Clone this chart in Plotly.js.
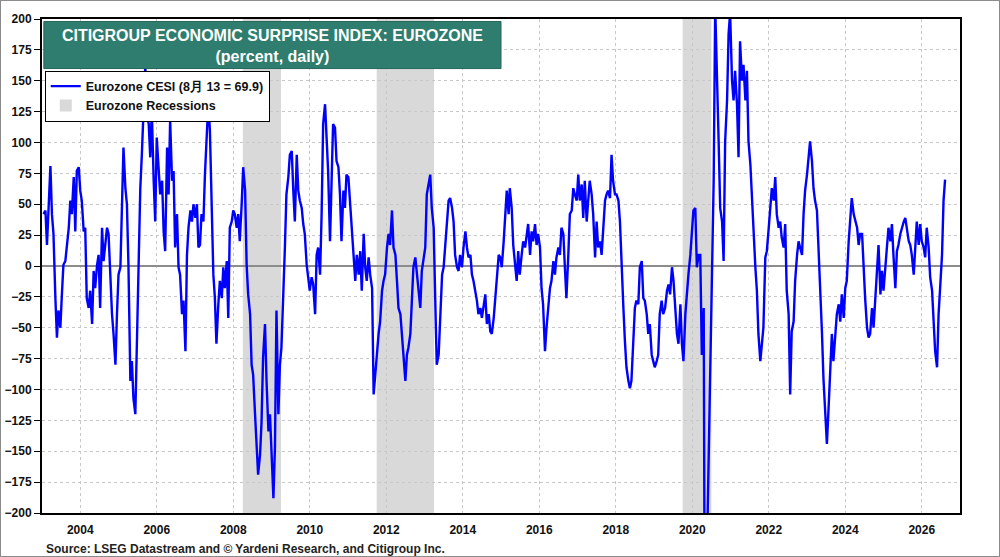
<!DOCTYPE html>
<html>
<head>
<meta charset="utf-8">
<script src="https://cdn.plot.ly/plotly-3.0.1.min.js"></script>
<style>
  body { margin: 0; background: #fff; }
  #chart { width: 998px; height: 555px; border: 1px solid #8a8a8a; }
</style>
</head>
<body>
<div id="chart"></div>
<script>
// Eurozone CESI (decimal years, index value)
var cesiYears = [
  2003.04, 2003.09, 2003.13, 2003.17, 2003.22, 2003.26, 2003.30, 2003.35, 2003.39, 2003.43,
  2003.48, 2003.52, 2003.56, 2003.61, 2003.65, 2003.70, 2003.74, 2003.78, 2003.83, 2003.87,
  2003.91, 2003.96, 2004.00, 2004.04, 2004.09, 2004.13, 2004.17, 2004.22, 2004.26, 2004.31,
  2004.35, 2004.39, 2004.44, 2004.48, 2004.52, 2004.57, 2004.61, 2004.65, 2004.70, 2004.74,
  2004.78, 2004.83, 2004.87, 2004.92, 2004.96, 2005.00, 2005.05, 2005.09, 2005.13, 2005.18,
  2005.22, 2005.26, 2005.31, 2005.35, 2005.39, 2005.44, 2005.48, 2005.53, 2005.57, 2005.61,
  2005.66, 2005.70, 2005.74, 2005.79, 2005.83, 2005.87, 2005.92, 2005.96, 2006.00, 2006.05,
  2006.09, 2006.14, 2006.18, 2006.22, 2006.27, 2006.31, 2006.35, 2006.40, 2006.44, 2006.48,
  2006.53, 2006.57, 2006.61, 2006.66, 2006.70, 2006.75, 2006.79, 2006.83, 2006.88, 2006.92,
  2006.96, 2007.01, 2007.05, 2007.09,
  2007.13, 2007.17, 2007.22, 2007.26, 2007.30, 2007.35, 2007.39, 2007.43, 2007.48, 2007.52,
  2007.56, 2007.61, 2007.65, 2007.70, 2007.74, 2007.78, 2007.83, 2007.87, 2007.91, 2007.96,
  2008.00, 2008.04, 2008.09, 2008.13, 2008.17, 2008.22, 2008.26, 2008.31, 2008.35, 2008.39,
  2008.44, 2008.48, 2008.52, 2008.57, 2008.61, 2008.65, 2008.70, 2008.74, 2008.78, 2008.83,
  2008.87, 2008.92, 2008.96, 2009.00, 2009.05, 2009.09, 2009.13, 2009.18, 2009.22, 2009.26,
  2009.31, 2009.35, 2009.39, 2009.44, 2009.48, 2009.53, 2009.57, 2009.61, 2009.66, 2009.70,
  2009.74, 2009.79, 2009.83, 2009.87, 2009.92, 2009.96, 2010.00, 2010.05, 2010.09, 2010.14,
  2010.18, 2010.22, 2010.27, 2010.31, 2010.35, 2010.40, 2010.44, 2010.48, 2010.53, 2010.57,
  2010.61, 2010.66, 2010.70, 2010.75, 2010.79, 2010.83, 2010.88, 2010.92, 2010.96, 2011.01,
  2011.05, 2011.09, 2011.14,
  2011.19, 2011.23, 2011.28, 2011.32, 2011.36, 2011.41, 2011.45, 2011.49, 2011.54, 2011.58,
  2011.63, 2011.67, 2011.71, 2011.76, 2011.80, 2011.84, 2011.89, 2011.93, 2011.97, 2012.02,
  2012.06, 2012.10, 2012.15, 2012.19, 2012.24, 2012.28, 2012.32, 2012.37, 2012.41, 2012.45,
  2012.50, 2012.54, 2012.58, 2012.63, 2012.67, 2012.71, 2012.76, 2012.80, 2012.85, 2012.89,
  2012.93, 2012.98, 2013.02, 2013.06, 2013.11, 2013.15, 2013.19, 2013.24, 2013.28, 2013.32,
  2013.37, 2013.41, 2013.46, 2013.50, 2013.54, 2013.59, 2013.63, 2013.67, 2013.72, 2013.76,
  2013.80, 2013.85, 2013.89, 2013.93, 2013.98, 2014.02, 2014.07, 2014.11, 2014.15, 2014.20,
  2014.24, 2014.28, 2014.33, 2014.37, 2014.41, 2014.46, 2014.50, 2014.54, 2014.59, 2014.63,
  2014.68, 2014.72, 2014.76, 2014.81, 2014.85, 2014.89, 2014.94, 2014.98, 2015.02, 2015.07,
  2015.11, 2015.15, 2015.20,
  2015.23, 2015.28, 2015.32, 2015.36, 2015.41, 2015.45, 2015.49, 2015.54, 2015.58, 2015.63,
  2015.67, 2015.71, 2015.76, 2015.80, 2015.84, 2015.89, 2015.93, 2015.97, 2016.02, 2016.06,
  2016.10, 2016.15, 2016.19, 2016.24, 2016.28, 2016.32, 2016.37, 2016.41, 2016.45, 2016.50,
  2016.54, 2016.58, 2016.63, 2016.67, 2016.71, 2016.76, 2016.80, 2016.85, 2016.89, 2016.93,
  2016.98, 2017.02, 2017.06, 2017.11, 2017.15, 2017.19, 2017.24, 2017.28, 2017.32, 2017.37,
  2017.41, 2017.46, 2017.50, 2017.54, 2017.59, 2017.63, 2017.67, 2017.72, 2017.76, 2017.80,
  2017.85, 2017.89, 2017.93, 2017.98, 2018.02, 2018.07, 2018.11, 2018.15, 2018.20, 2018.24,
  2018.28, 2018.33, 2018.37, 2018.41, 2018.46, 2018.50, 2018.54, 2018.59, 2018.63, 2018.68,
  2018.72, 2018.76, 2018.81, 2018.85, 2018.89, 2018.94, 2018.98, 2019.02, 2019.07, 2019.11,
  2019.15, 2019.20, 2019.24,
  2019.29, 2019.34, 2019.38, 2019.42, 2019.47, 2019.51, 2019.56, 2019.60, 2019.64, 2019.69,
  2019.73, 2019.77, 2019.82, 2019.86, 2019.90, 2019.95, 2019.99, 2020.03, 2020.08, 2020.12,
  2020.17, 2020.21, 2020.25, 2020.30, 2020.32, 2020.38, 2020.45, 2020.51,
  2020.56, 2020.60, 2020.64, 2020.69, 2020.73, 2020.78, 2020.82, 2020.86, 2020.91, 2020.95,
  2020.99, 2021.04, 2021.08, 2021.12, 2021.17, 2021.21, 2021.25, 2021.30, 2021.34, 2021.39,
  2021.43, 2021.47, 2021.52, 2021.56, 2021.60, 2021.65, 2021.69, 2021.73, 2021.78, 2021.82,
  2021.86, 2021.91, 2021.95, 2022.00, 2022.04, 2022.08, 2022.13, 2022.17, 2022.21, 2022.26,
  2022.30, 2022.34, 2022.39, 2022.43, 2022.47, 2022.52, 2022.56, 2022.60, 2022.65, 2022.69,
  2022.74, 2022.78, 2022.82, 2022.87, 2022.91, 2022.95, 2023.00, 2023.04, 2023.08, 2023.13,
  2023.17, 2023.21, 2023.26, 2023.30,
  2023.35, 2023.39, 2023.43, 2023.48, 2023.52, 2023.56, 2023.61, 2023.65, 2023.69, 2023.74,
  2023.78, 2023.83, 2023.87, 2023.91, 2023.96, 2024.00, 2024.04, 2024.09, 2024.13, 2024.17,
  2024.22, 2024.26, 2024.31, 2024.35, 2024.39, 2024.44, 2024.48, 2024.52, 2024.57, 2024.61,
  2024.65, 2024.70, 2024.74, 2024.78, 2024.83, 2024.87, 2024.92, 2024.96, 2025.00, 2025.05,
  2025.09, 2025.13, 2025.18, 2025.22, 2025.26, 2025.31, 2025.35, 2025.39, 2025.44, 2025.48,
  2025.53, 2025.57, 2025.61, 2025.66, 2025.70, 2025.74, 2025.79, 2025.83, 2025.87, 2025.92,
  2025.96, 2026.00, 2026.05, 2026.09, 2026.13, 2026.18, 2026.22, 2026.27, 2026.31, 2026.35,
  2026.40, 2026.44, 2026.48, 2026.53, 2026.57, 2026.61
];

var cesiValues = [
  42, 45, 17, 47, 81, 42, 26, -26, -58, -36,
  -50, -23, 1, 4, 15, 31, 53, 42, 72, 28,
  77, 80, 61, 53, 28, 31, -26, -34, -20, -47,
  -4, -18, 1, 9, -34, 31, 4, 15, 31, 26,
  -7, -39, -55, -80, -39, -7, -1, 42, 96, 63,
  50, 1, -93, -77, -107, -120, -66, -1, 63, 90,
  131, 162, 123, 115, 88, 126, 69, 36, 104, 74,
  58, 69, 28, 12, 96, 58, 118, 69, 77, 15,
  42, -1, -7, -39, -28, -69, 9, 31, 45, 36,
  50, 39, 50, 15,
  17, 42, 36, 74, 96, 134, 109, 55, -7, -26,
  -63, -31, -12, -26, -1, -18, 4, -42, 31, 36,
  45, 42, 31, 42, 20, 50, 80, 61, 1, -23,
  -39, -80, -88, -120, -147, -169, -153, -126, -74, -47,
  -93, -134, -120, -158, -188, -147, -36, -120, -80, -66,
  -26, 15, 58, 72, 90, 93, 61, 36, 90, 61,
  53, 47, 34, 26, 1, -9, -20, -9, -15, -39,
  9, 15, -7, 42, 115, 131, 101, 77, 20, 63,
  115, 112, 85, 80, 58, 20, 61, 47, 74, 72,
  53, 31, 15,
  -12, 9, -7, 12, -20, 26, -1, -12, 7, -7,
  -18, -104, -88, -66, -55, -45, -20, -12, -7, 15,
  26, 17, 45, 15, 9, -12, -34, -39, -55, -66,
  -93, -72, -66, -55, -28, -1, 7, -7, -18, -34,
  -4, 9, 15, 58, 69, 74, 47, 31, -26, -80,
  -72, -39, -7, -1, 15, 42, 53, 55, 47, 36,
  9, -1, -4, 9, -1, 15, 28, 15, 7, 9,
  -7, -12, -20, -28, -39, -34, -42, -34, -23, -47,
  -39, -53, -55, -42, -26, -12, 9, 7, -1, 20,
  42, 61, 42,
  63, 47, 17, 4, -12, 12, -7, 9, 20, 15,
  26, 34, 9, 28, 20, 34, 17, 26, 15, -18,
  -31, -69, -50, -28, -18, -12, 4, -7, 7, 15,
  9, 31, 26, -1, -26, 9, 42, 45, 63, 58,
  53, 74, 53, 66, 39, 69, 36, 53, 69, 58,
  42, 7, 36, 15, 20, 9, 28, 53, 58, 61,
  55, 90, 69, 58, 58, 53, 36, -1, -34, -61,
  -82, -93, -99, -93, -66, -34, -28, -31, -1, 4,
  -26, -28, -39, -55, -47, -72, -77, -82, -77, -72,
  -39, -28, -39,
  -34, -20, -15, -23, -1, -12, -34, -55, -63, -31,
  -63, -77, -39, -20, -7, 9, 28, 45, 47, -1,
  9, 9, -72, -34, -230, -240, -120, -26,
  69, 210, 150, 101, 47, 36, 4, 101, 134, 188,
  205, 150, 134, 158, 131, 88, 182, 150, 163, 134,
  158, 101, 82, 53, 28, -1, -20, -55, -77, -66,
  -50, 7, 12, 31, 45, 63, 53, 72, 42, 31,
  36, 23, 15, 34, -20, -39, -104, -53, -45, -12,
  9, 20, 15, 9, 42, 61, 74, 90, 101, 85,
  63, 53, 45, 15,
  -20, -53, -91, -120, -144, -118, -82, -55, -77, -53,
  -39, -31, -45, -23, -42, -18, -12, 20, 42, 55,
  42, 36, 31, 17, 26, 26, -7, -26, -50, -58,
  -55, -34, -50, -26, -1, 17, -23, -4, -20, -1,
  9, 31, 20, 34, 9, -18, 12, 17, 26, 31,
  36, 39, 31, 20, 17, 9, -7, 15, 36, 17,
  34, 20, 15, 7, 31, 15, -9, -20, -45, -69,
  -82, -39, -18, 9, 53, 69.9
];

// Eurozone recessions (decimal years)
var recStart = [2008.25, 2011.75, 2019.75];
var recEnd = [2009.25, 2013.25, 2020.5];

var yearTicks = [2004, 2006, 2008, 2010, 2012, 2014, 2016, 2018, 2020, 2022, 2024, 2026];
var yearLabels = ["2004", "2006", "2008", "2010", "2012", "2014", "2016", "2018", "2020", "2022", "2024", "2026"];
var valueTicks = [-200, -175, -150, -125, -100, -75, -50, -25, 0, 25, 50, 75, 100, 125, 150, 175, 200];

var fam = 'Arial, "Liberation Sans", sans-serif';
var boldFont = {family: fam, size: 12, color: "#111", weight: "bold"};

var shapes = [];
for (var i = 0; i < recStart.length; i++) {
  shapes.push({
    type: "rect", xref: "x", yref: "paper",
    x0: recStart[i], x1: recEnd[i], y0: 0, y1: 1,
    fillcolor: "#d9d9d9", line: {width: 0}, layer: "below",
    showlegend: i === 0, name: "Eurozone Recessions", legendrank: 2
  });
}
// title banner
shapes.push({
  type: "rect", xref: "paper", yref: "paper",
  x0: 0.002, x1: 0.5, y0: 0.8997, y1: 0.995,
  fillcolor: "#2e7d6e", line: {color: "#24665a", width: 1}, layer: "above"
});

var trace1 = {
  x: cesiYears,
  y: cesiValues,
  type: "scatter",
  mode: "lines",
  name: "Eurozone CESI (8月 13 = 69.9)",
  line: {color: "#0000ff", width: 2.4},
  legendrank: 1,
  hoverinfo: "skip"
};

var layout = {
  width: 998,
  height: 555,
  margin: {l: 41, r: 39, t: 18, b: 43},
  paper_bgcolor: "white",
  plot_bgcolor: "white",
  font: boldFont,
  showlegend: true,
  title: {
    text: "CITIGROUP ECONOMIC SURPRISE INDEX: EUROZONE<br>(percent, daily)",
    font: {family: fam, size: 16, color: "white", weight: "bold"},
    xref: "paper", x: 0.251, xanchor: "center",
    yref: "paper", y: 0.955, yanchor: "middle"
  },
  legend: {
    x: 0.003, y: 0.8957, xanchor: "left", yanchor: "top",
    bgcolor: "white", bordercolor: "black", borderwidth: 1,
    font: {family: fam, size: 12.5, color: "#111", weight: "bold"},
    tracegroupgap: 0, itemwidth: 30
  },
  xaxis: {
    range: [2003, 2027],
    tickvals: yearTicks,
    ticktext: yearLabels,
    tickfont: boldFont,
    ticks: "",
    ticklabelstandoff: 5,
    showgrid: true, gridcolor: "#c8c8c8", griddash: "dot", gridwidth: 1,
    zeroline: false,
    showline: true, linecolor: "black", linewidth: 2, mirror: true,
    fixedrange: true
  },
  yaxis: {
    range: [-200, 200],
    tickvals: valueTicks,
    tickfont: boldFont,
    ticks: "outside", ticklen: 6, tickcolor: "black", tickwidth: 1,
    showgrid: true, gridcolor: "#c8c8c8", griddash: "dot", gridwidth: 1,
    zeroline: true, zerolinecolor: "#8c8c8c", zerolinewidth: 1.5,
    showline: true, linecolor: "black", linewidth: 2, mirror: true,
    fixedrange: true
  },
  yaxis2: {
    overlaying: "y", side: "right",
    range: [-200, 200],
    tickvals: valueTicks,
    tickfont: boldFont,
    ticks: "outside", ticklen: 6, tickcolor: "black", tickwidth: 1,
    showgrid: false, zeroline: false,
    showline: true, linecolor: "black", linewidth: 2,
    fixedrange: true
  },
  shapes: shapes,
  annotations: [{
    text: "Source: LSEG Datastream and © Yardeni Research, and Citigroup Inc.",
    xref: "paper", yref: "paper", x: 0.002, y: -0.073,
    xanchor: "left", yanchor: "middle", showarrow: false,
    font: {family: fam, size: 12, color: "#222", weight: "bold"}
  }]
};

Plotly.newPlot("chart", [trace1], layout, {displayModeBar: false, staticPlot: true});
</script>
</body>
</html>
